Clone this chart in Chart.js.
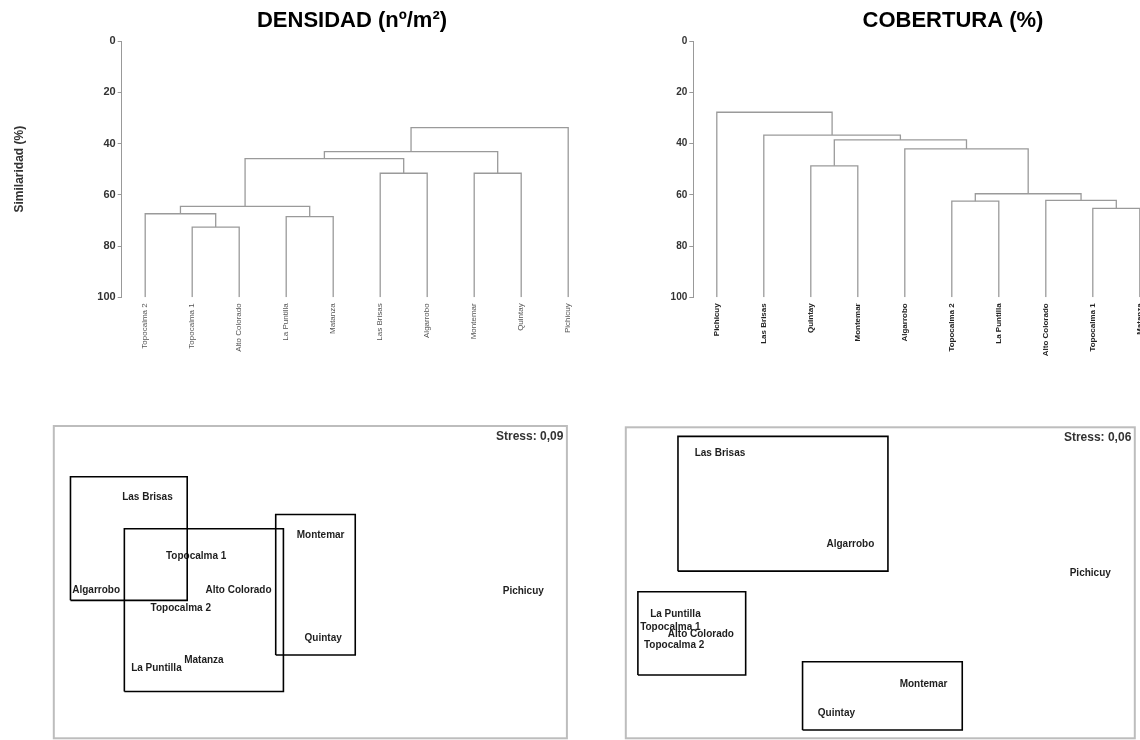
<!DOCTYPE html>
<html lang="es">
<head>
<meta charset="utf-8">
<title>Densidad y cobertura: dendrogramas y MDS</title>
<script src="https://cdn.jsdelivr.net/npm/chart.js@4.4.1/dist/chart.umd.min.js"></script>
<style>
  html, body { margin: 0; padding: 0; background: #fff; }
  body { width: 1140px; height: 740px; overflow: hidden; position: relative; }
  canvas { position: absolute; }
  #dens-tree { left: 0; top: 0; }
  #cob-tree { left: 663px; top: 0; }
  #dens-mds { left: 50px; top: 420px; }
  #cob-mds { left: 620px; top: 420px; }
</style>
</head>
<body>
<canvas id="dens-tree" width="704" height="380"></canvas>
<canvas id="cob-tree" width="580" height="380"></canvas>
<canvas id="dens-mds" width="522" height="320"></canvas>
<canvas id="cob-mds" width="520" height="320"></canvas>
<script>
// DENSIDAD dendrogram: merges create nodes 10, 11, ... (similarity %)
const densLeaves = ['Topocalma 2', 'Topocalma 1', 'Alto Colorado', 'La Puntilla', 'Matanza', 'Las Brisas', 'Algarrobo', 'Montemar', 'Quintay', 'Pichicuy'];
const densMerges = [[1, 2], [3, 4], [0, 10], [12, 11], [5, 6], [7, 8], [13, 14], [16, 15], [17, 9]];
const densHeights = [72.6, 68.5, 67.4, 64.5, 51.6, 51.6, 45.9, 43.2, 33.8];

// COBERTURA dendrogram
const cobLeaves = ['Pichicuy', 'Las Brisas', 'Quintay', 'Montemar', 'Algarrobo', 'Topocalma 2', 'La Puntilla', 'Alto Colorado', 'Topocalma 1', 'Matanza'];
const cobMerges = [[8, 9], [7, 10], [5, 6], [12, 11], [4, 13], [2, 3], [15, 14], [1, 16], [0, 17]];
const cobHeights = [65.3, 62.2, 62.5, 59.6, 42.1, 48.7, 38.6, 36.7, 27.8];

const simTicks = [0, 20, 40, 60, 80, 100];

// MDS ordinations (groups: xMin, xMax, yMin, yMax)
const densSites = ['Las Brisas', 'Topocalma 1', 'Algarrobo', 'Alto Colorado', 'Topocalma 2', 'Montemar', 'Quintay', 'Matanza', 'La Puntilla', 'Pichicuy'];
const densMdsX = [-1.27, -0.89, -1.67, -0.56, -1.01, 0.08, 0.10, -0.83, -1.20, 1.66];
const densMdsY = [0.65, 0.20, -0.06, -0.06, -0.20, 0.36, -0.43, -0.60, -0.66, -0.07];
const densGroups = [[-1.87, -0.96, -0.14, 0.81], [-1.45, -0.21, -0.84, 0.41], [-0.27, 0.35, -0.56, 0.52]];
const densStress = 'Stress: 0,09';

const cobSites = ['Las Brisas', 'Algarrobo', 'Pichicuy', 'La Puntilla', 'Alto Colorado', 'Topocalma 1', 'Topocalma 2', 'Montemar', 'Quintay'];
const cobMdsX = [-1.26, -0.235, 1.65, -1.61, -1.41, -1.65, -1.62, 0.34, -0.345];
const cobMdsY = [1.00, 0.30, 0.076, -0.24, -0.395, -0.34, -0.485, -0.78, -1.01];
const cobGroups = [[-1.59, 0.06, 0.09, 1.13], [-1.905, -1.058, -0.711, -0.069], [-0.611, 0.644, -1.136, -0.609]];
const cobStress = 'Stress: 0,06';

const FONT = '"Liberation Sans", Arial, Helvetica, sans-serif';
const LEAF_GAP = 47;
const TREE_BOTTOM = 297.3;

Chart.defaults.font.family = FONT;
Chart.defaults.animation = false;

function treeSegments(merges, heights, leafCount) {
    const xs = [];
    const hs = [];
    for (let i = 0; i < leafCount; i++) { xs.push(i); hs.push(100); }
    return merges.map(function (pair, k) {
        const a = pair[0], b = pair[1], h = heights[k];
        xs.push((xs[a] + xs[b]) / 2);
        hs.push(h);
        return [{ x: xs[a], y: hs[a] }, { x: xs[a], y: h }, { x: xs[b], y: h }, { x: xs[b], y: hs[b] }];
    });
}

function initTree(id, opts) {
    const canvas = document.getElementById(id);
    const segments = treeSegments(opts.merges, opts.heights, opts.leaves.length);
    new Chart(canvas, {
        type: 'scatter',
        data: {
            datasets: segments.map(seg => ({
                data: seg, showLine: true, borderColor: '#9a9a9a', borderWidth: 1.3, pointRadius: 0, fill: false
            }))
        },
        options: {
            responsive: false,
            events: [],
            layout: { padding: 0 },
            plugins: {
                legend: { display: false },
                tooltip: { enabled: false },
                title: {
                    display: true, text: opts.title, color: '#000',
                    font: { size: 22, weight: 'bold' },
                    padding: { top: 8, bottom: 6.6 }
                }
            },
            scales: {
                x: {
                    type: 'linear',
                    min: -0.5,
                    max: -0.5 + (canvas.width - opts.axisWidth) / LEAF_GAP,
                    grid: { display: false, drawTicks: false },
                    border: { display: false },
                    afterBuildTicks: scale => { scale.ticks = opts.leaves.map((_, i) => ({ value: i })); },
                    afterFit: scale => { scale.height = canvas.height - TREE_BOTTOM; },
                    ticks: {
                        autoSkip: false, minRotation: 90, maxRotation: 90, padding: 6,
                        color: opts.leafColor, font: { size: 8, weight: opts.leafWeight },
                        callback: v => opts.leaves[v]
                    }
                },
                y: {
                    min: 0, max: 100, reverse: true,
                    afterBuildTicks: scale => { scale.ticks = simTicks.map(v => ({ value: v })); },
                    afterFit: scale => { scale.width = opts.axisWidth; },
                    ticks: { padding: 2, color: '#333', font: { size: opts.tickSize, weight: 'bold' } },
                    grid: { drawOnChartArea: false, drawTicks: true, tickLength: 4, color: '#999' },
                    border: { display: true, color: '#999', width: 1 },
                    title: {
                        display: !!opts.axisTitle, text: opts.axisTitle, color: '#333',
                        font: { size: 12, weight: 'bold' }, padding: { top: 12, bottom: 0 }
                    }
                }
            }
        }
    });
}

const siteLabels = {
    id: 'siteLabels',
    beforeDatasetsDraw(chart, args, opts) {
        const { ctx, chartArea } = chart;
        ctx.save();
        ctx.strokeStyle = '#bdbdbd';
        ctx.lineWidth = 2;
        ctx.strokeRect(chartArea.left, chartArea.top, chartArea.width, chartArea.height);
        ctx.font = 'bold 10px ' + FONT;
        ctx.fillStyle = '#1e1e1e';
        ctx.textAlign = 'center';
        ctx.textBaseline = 'middle';
        chart.getDatasetMeta(0).data.forEach((pt, i) => ctx.fillText(opts.names[i], pt.x, pt.y));
        ctx.font = 'bold 12px ' + FONT;
        ctx.fillStyle = '#333';
        ctx.textAlign = 'right';
        ctx.fillText(opts.stress, chartArea.right - 3.5, chartArea.top + opts.stressOffset);
        ctx.restore();
    }
};

function initOrdination(id, opts) {
    const canvas = document.getElementById(id);
    const boxes = opts.groups.map(g => ({
        data: [{ x: g[0], y: g[2] }, { x: g[1], y: g[2] }, { x: g[1], y: g[3] }, { x: g[0], y: g[3] }, { x: g[0], y: g[2] }],
        showLine: true, borderColor: '#000', borderWidth: 1.6, pointRadius: 0, fill: false
    }));
    const sites = { data: opts.x.map((x, i) => ({ x: x, y: opts.y[i] })), pointRadius: 0 };
    new Chart(canvas, {
        type: 'scatter',
        data: { datasets: [sites].concat(boxes) },
        options: {
            responsive: false,
            events: [],
            layout: { padding: opts.padding },
            plugins: {
                legend: { display: false },
                tooltip: { enabled: false },
                siteLabels: { names: opts.sites, stress: opts.stress, stressOffset: opts.stressOffset }
            },
            scales: {
                x: { display: false, min: -2, max: 2 },
                y: { display: false, min: -1.2, max: 1.2 }
            }
        },
        plugins: [siteLabels]
    });
}

initTree('dens-tree', {
    title: 'DENSIDAD (nº/m²)',
    leaves: densLeaves, merges: densMerges, heights: densHeights,
    axisWidth: 121.7, axisTitle: 'Similaridad (%)', tickSize: 11,
    leafColor: '#555', leafWeight: 'normal'
});
initTree('cob-tree', {
    title: 'COBERTURA (%)',
    leaves: cobLeaves, merges: cobMerges, heights: cobHeights,
    axisWidth: 30.3, axisTitle: '', tickSize: 10,
    leafColor: '#222', leafWeight: 'bold'
});
initOrdination('dens-mds', {
    sites: densSites, x: densMdsX, y: densMdsY, groups: densGroups, stress: densStress,
    padding: { left: 3.8, top: 6, right: 5.1, bottom: 1.7 }, stressOffset: 10.7
});
initOrdination('cob-mds', {
    sites: cobSites, x: cobMdsX, y: cobMdsY, groups: cobGroups, stress: cobStress,
    padding: { left: 5.8, top: 7.3, right: 5.2, bottom: 1.7 }, stressOffset: 10.4
});
</script>
</body>
</html>
